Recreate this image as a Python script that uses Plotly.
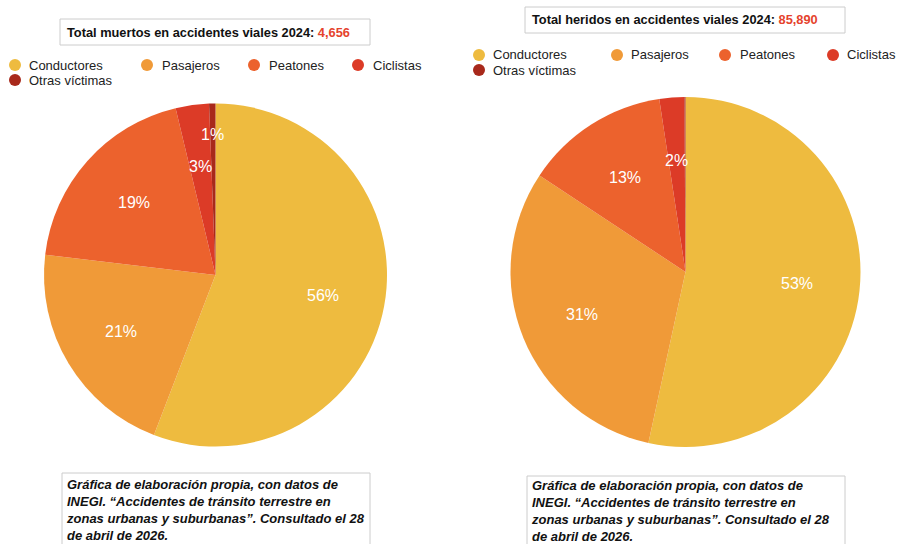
import math
import plotly.graph_objects as go

# Víctimas de accidentes viales 2024 (INEGI)
categorias = ["Conductores", "Pasajeros", "Peatones", "Ciclistas", "Otras víctimas"]
colores = ["#EEBB3F", "#F09A38", "#EC622D", "#DC3B27", "#A8291B"]

muertos = [2600, 980, 902, 146, 28]
heridos = [45865, 26540, 11425, 1975, 85]

total_muertos = sum(muertos)
total_heridos = sum(heridos)

fuente = ("Gráfica de elaboración propia, con datos de<br>"
          "INEGI. “Accidentes de tránsito terrestre en<br>"
          "zonas urbanas y suburbanas”. Consultado el 28<br>"
          "de abril de 2026.")

W, H = 898, 544
FONT = "Liberation Sans, Arial, Helvetica, sans-serif"


def px(x):
    return x / W


def py(y):
    return 1 - y / H


shapes = []
annotations = []
fig = go.Figure()


def pie_labels(values, box):
    """Percentage labels placed near 2/3 of the radius on each slice's mid-angle;
    a label that would collide with the previous one is pushed outwards,
    and slices under half a percent are left unlabelled."""
    x0, y0, x1, y1 = box
    cx, cy = (x0 + x1) / 2, (y0 + y1) / 2
    r = min(x1 - x0, y1 - y0) / 2
    total = sum(values)
    acc = 0
    prev = None
    for v in values:
        frac = v / total
        mid = (acc + v / 2) / total
        acc += v
        if frac < 0.005:
            continue
        ang = 2 * math.pi * mid
        k = 0.64
        while True:
            lx = cx + k * r * math.sin(ang)
            ly = cy - k * r * math.cos(ang)
            if prev is None or math.hypot(lx - prev[0], ly - prev[1]) > 34 or k > 0.9:
                break
            k += 0.01
        prev = (lx, ly)
        annotations.append(dict(
            xref="paper", yref="paper", x=px(lx), y=py(ly), xanchor="center", yanchor="middle",
            showarrow=False, text=f"{round(frac * 100)}%",
            font=dict(size=16, color="white", family=FONT)))


for valores, box in [(muertos, (44, 103, 387, 447)), (heridos, (509, 97, 862, 447))]:
    x0, y0, x1, y1 = box
    fig.add_trace(go.Pie(
        labels=categorias, values=valores, sort=False, direction="clockwise",
        rotation=0, marker=dict(colors=colores, line=dict(width=0)),
        textinfo="none", hoverinfo="label+value+percent", showlegend=False,
        domain=dict(x=[px(x0), px(x1)], y=[py(y1), py(y0)]),
    ))
    pie_labels(valores, box)

# title boxes
for (x0, y0, x1, y1, tx, ty, texto, total) in [
    (60, 19, 370, 45, 65, 32, "Total muertos en accidentes viales 2024: ", total_muertos),
    (525, 7, 845, 33, 530, 20, "Total heridos en accidentes viales 2024: ", total_heridos),
]:
    shapes.append(dict(type="rect", xref="paper", yref="paper",
                       x0=px(x0), x1=px(x1), y0=py(y1), y1=py(y0),
                       line=dict(color="#CCCCCC", width=1), fillcolor="white", layer="below"))
    annotations.append(dict(
        xref="paper", yref="paper", x=px(tx), y=py(ty), xanchor="left", yanchor="middle",
        showarrow=False, align="left",
        text=f"<b>{texto}<span style='color:#E5432D'>{total:,}</span></b>",
        font=dict(size=12.8, color="#111111", family=FONT)))

# legends
legend_layouts = [
    dict(rows=[65, 65, 65, 65, 80], cx=[15, 147, 254, 358, 15], tx=[27, 160, 267, 371, 27]),
    dict(rows=[55, 55, 55, 55, 70], cx=[479, 617, 725, 833, 479], tx=[491, 629, 738, 845, 491]),
]
for lay in legend_layouts:
    for nombre, color, yy, cx, tx in zip(categorias, colores, lay["rows"], lay["cx"], lay["tx"]):
        r = 6
        shapes.append(dict(type="circle", xref="paper", yref="paper",
                           x0=px(cx - r), x1=px(cx + r), y0=py(yy + r), y1=py(yy - r),
                           line=dict(width=0), fillcolor=color))
        annotations.append(dict(
            xref="paper", yref="paper", x=px(tx), y=py(yy), xanchor="left", yanchor="middle",
            showarrow=False, text=nombre, font=dict(size=13, color="#222222", family=FONT)))

# source boxes
for (x0, y0, x1, tx, ty) in [(62, 473, 370, 64, 475), (527, 476, 845, 529, 476)]:
    shapes.append(dict(type="rect", xref="paper", yref="paper",
                       x0=px(x0), x1=px(x1), y0=py(H + 5), y1=py(y0),
                       line=dict(color="#CCCCCC", width=1), fillcolor="white", layer="below"))
    annotations.append(dict(
        xref="paper", yref="paper", x=px(tx), y=py(ty), xanchor="left", yanchor="top",
        showarrow=False, align="left", text=f"<b><i>{fuente}</i></b>",
        font=dict(size=13, color="#111111", family=FONT)))

fig.update_layout(
    width=W, height=H, margin=dict(l=0, r=0, t=0, b=0),
    paper_bgcolor="white", plot_bgcolor="white",
    shapes=shapes, annotations=annotations,
)

fig.write_html("out.html")
